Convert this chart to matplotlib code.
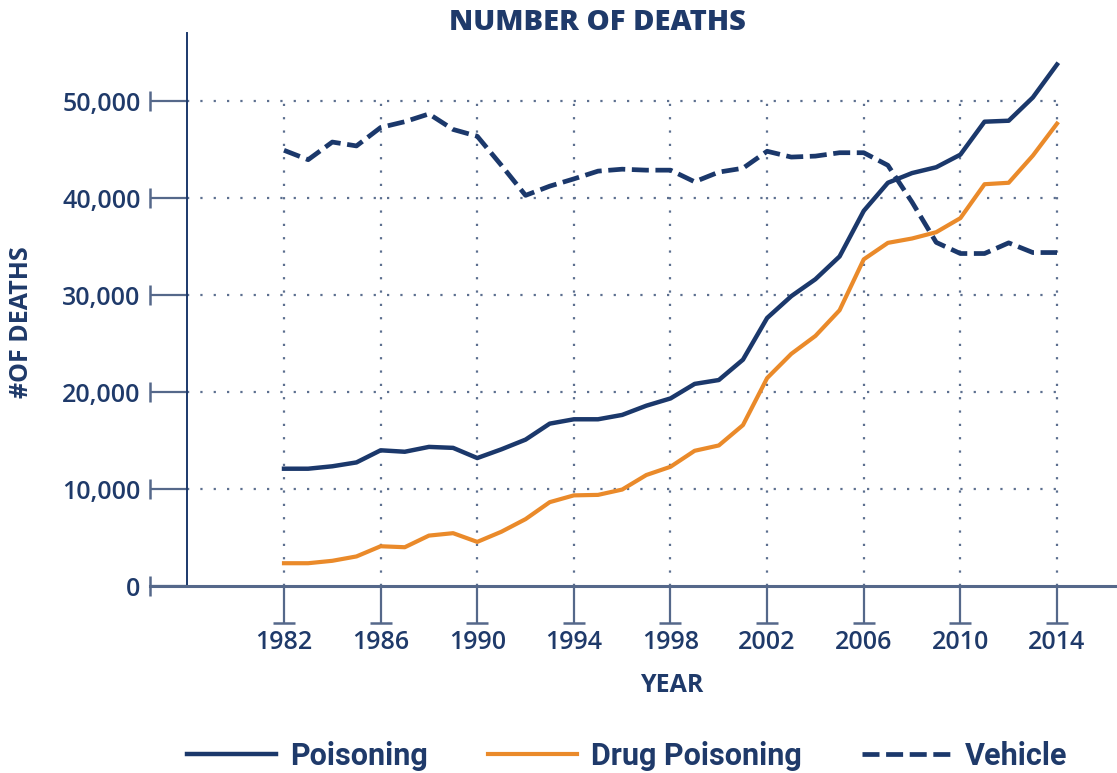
import matplotlib
matplotlib.use("Agg")
import matplotlib.pyplot as plt
from matplotlib.transforms import offset_copy
from matplotlib.lines import Line2D

years = list(range(1982, 2015))
poisoning = [12100, 12100, 12350, 12750, 14000, 13850, 14350, 14250, 13200, 14100,
             15100, 16750, 17200, 17200, 17650, 18600, 19350, 20850, 21250, 23350,
             27650, 29900, 31650, 34000, 38700, 41600, 42600, 43200, 44500, 47900,
             48000, 50400, 53800]
drug_poisoning = [2350, 2350, 2600, 3050, 4100, 4000, 5200, 5450, 4550, 5600,
                  6900, 8650, 9350, 9400, 9950, 11450, 12300, 13950, 14500, 16600,
                  21450, 23950, 25800, 28450, 33700, 35400, 35850, 36500, 37950, 41450,
                  41600, 44400, 47700]
vehicle = [44950, 43980, 45800, 45400, 47300, 47900, 48700, 47100, 46400, 43400,
           40300, 41250, 42000, 42800, 43000, 42900, 42900, 41700, 42700, 43100,
           44850, 44250, 44350, 44700, 44700, 43400, 39600, 35450, 34300, 34300,
           35400, 34400, 34400]

x_ticks = [1982, 1986, 1990, 1994, 1998, 2002, 2006, 2010, 2014]
y_ticks = [0, 10000, 20000, 30000, 40000, 50000]
y_tick_labels = ["0", "10,000", "20,000", "30,000", "40,000", "50,000"]

title = "NUMBER OF DEATHS"
x_label = "YEAR"
y_label = "#OF DEATHS"
series_names = ["Poisoning", "Drug Poisoning", "Vehicle"]

NAVY = "#1b386b"
ORANGE = "#ea8a2a"
TEXT = "#1f3a6a"
GRID = "#5c6f8f"
AXIS = "#55688a"

plt.rcParams['font.family'] = ['Open Sans', 'DejaVu Sans']

fig = plt.figure(figsize=(11.17, 7.73), dpi=100)
ax = fig.add_axes([150/1117, (773-586)/773, 1 - 150/1117, (586-33)/773])

px_per_year = 24.156
x_lo = 1982 - (284 - 150) / px_per_year
x_hi = 1982 + (1117 - 284) / px_per_year
ax.set_xlim(x_lo, x_hi)
ax.set_ylim(0, 57050)

# grid
ax.hlines(y_ticks[1:], 1978, x_ticks[-1], colors=GRID, linestyles=(0, (1, 5)), linewidth=1.6, zorder=1)
ax.vlines(x_ticks, 0, y_ticks[-1], colors=GRID, linestyles=(0, (1, 5)), linewidth=1.6, zorder=1)

# data lines
ax.plot(years, poisoning, color=NAVY, lw=3.2, solid_joinstyle='round', zorder=3)
ax.plot(years, drug_poisoning, color=ORANGE, lw=3.0, solid_joinstyle='round', zorder=3)
ax.plot(years, vehicle, color=NAVY, lw=3.4, dashes=(3.6, 1.4), zorder=3)

# spines
for s in ['top', 'right']:
    ax.spines[s].set_visible(False)
ax.spines['left'].set_position(('data', 1978))
ax.spines['left'].set_color(NAVY)
ax.spines['left'].set_linewidth(1.4)
ax.spines['bottom'].set_color(AXIS)
ax.spines['bottom'].set_linewidth(2.2)

# ticks
ax.set_xticks(x_ticks)
ax.set_xticklabels([str(y) for y in x_ticks])
ax.set_yticks(y_ticks)
ax.set_yticklabels(y_tick_labels)
ax.tick_params(axis='x', length=26.6, width=1.6, color=AXIS, pad=5,
               labelsize=18, labelcolor=TEXT)
ax.tick_params(axis='y', length=26.6, width=1.6, color=AXIS, pad=7,
               labelsize=18, labelcolor=TEXT)
for lab in ax.get_xticklabels() + ax.get_yticklabels():
    lab.set_fontweight('semibold')

# T-shaped tick ends
tx = offset_copy(ax.transData, fig=fig, x=0, y=-37, units='dots')
ax.plot(x_ticks, [0]*len(x_ticks), ls='none', marker='_', markersize=16, mew=1.8,
        color=AXIS, transform=tx, clip_on=False)
ty = offset_copy(ax.transData, fig=fig, x=-37, y=0, units='dots')
ax.plot([1978]*len(y_ticks), y_ticks, ls='none', marker='|', markersize=14, mew=1.8,
        color=AXIS, transform=ty, clip_on=False)

# texts
fig.text(597/1117, 1 - 22/773, title, ha='center', va='center', fontsize=21,
         fontweight='heavy', color=TEXT)
fig.text(672/1117, 1 - 685/773, x_label, ha='center', va='center', fontsize=18,
         fontweight='bold', color=TEXT)
fig.text(22/1117, 1 - 322/773, y_label, ha='center', va='center', fontsize=18,
         fontweight='bold', color=TEXT, rotation=90)

# legend: three entries placed along the bottom
handles = [Line2D([], [], color=NAVY, lw=3.2),
           Line2D([], [], color=ORANGE, lw=3.0),
           Line2D([], [], color=NAVY, lw=3.4, dashes=(3.6, 1.4))]
legend_x = [187, 488, 862]
for h, name, lx in zip(handles, series_names, legend_x):
    leg = fig.legend([h], [name], loc='center left',
                     bbox_to_anchor=(lx/1117, 1 - 756/773), frameon=False,
                     borderpad=0, borderaxespad=0, handlelength=2.9, handletextpad=0.46,
                     prop={'family': ['Roboto', 'DejaVu Sans'], 'size': 22, 'weight': 'bold'})
    for t in leg.get_texts():
        t.set_color(TEXT)

fig.savefig("out.png", dpi=100)
